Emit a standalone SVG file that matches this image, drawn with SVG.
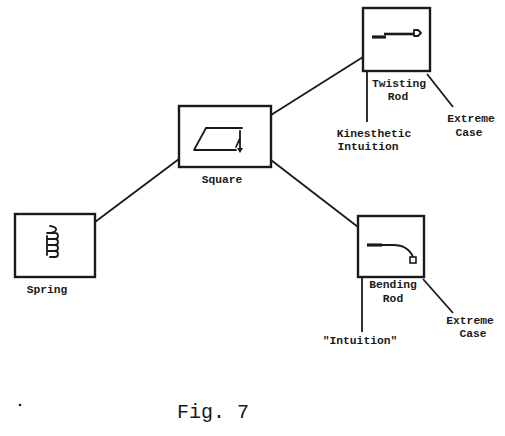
<svg xmlns="http://www.w3.org/2000/svg" width="505" height="436" viewBox="0 0 505 436">
<style>
.box{fill:#fff;stroke:#1a1a1a;stroke-width:2.4}
.ln{stroke:#1a1a1a;stroke-width:1.8;fill:none}
.ic{stroke:#1a1a1a;stroke-width:1.8;fill:none;stroke-linecap:round;stroke-linejoin:round}
.lbl{font-family:"Liberation Mono","DejaVu Sans Mono",monospace;font-weight:bold;font-size:11.3px;fill:#1a1a1a;text-anchor:middle}
.cap{font-family:"Liberation Mono","Courier New",monospace;font-size:20px;fill:#1a1a1a}
</style>
<rect width="505" height="436" fill="#fff"/>
<g id="connectors">
<line class="ln" x1="95" y1="222" x2="179" y2="159"/>
<line class="ln" x1="271" y1="115" x2="363" y2="57"/>
<line class="ln" x1="271" y1="160" x2="358" y2="227"/>
<line class="ln" x1="367" y1="71" x2="367" y2="122"/>
<line class="ln" x1="427" y1="74" x2="453" y2="107"/>
<line class="ln" x1="362" y1="277" x2="362" y2="332"/>
<line class="ln" x1="423" y1="279" x2="453" y2="313"/>
</g>
<g id="spring">
<rect class="box" x="15" y="214" width="80" height="63"/>
<path class="ic" d="M50,226 Q57,227 56,230 Q55,233 47,233 M47,233 H55 A3,3 0 0 1 55,239 H47 M47,239 H55 A3,3 0 0 1 55,245 H47 M47,245 H55 A3,3 0 0 1 55,251 H47 M47,251 H55 A3,3 0 0 1 55,257 H50 M47,236 V255"/>
<text class="lbl" x="47" y="293">Spring</text>
</g>
<g id="square">
<rect class="box" x="179" y="106" width="92" height="61"/>
<path class="ic" d="M206,128 H242 M206,128 L194,150 H236 M240,131 V150 M236,147 L240,138"/>
<path d="M237,148 L243,148 L240,153 Z" fill="#1a1a1a"/>
<text class="lbl" x="222" y="183">Square</text>
</g>
<g id="twisting-rod">
<rect class="box" x="363" y="8" width="67" height="63"/>
<path d="M372,37 H386" stroke="#1a1a1a" stroke-width="3.2" fill="none"/>
<path d="M384,34 H414" stroke="#1a1a1a" stroke-width="2.6" fill="none"/>
<path class="ic" d="M414,30 L418,30 L421,33 L418,36 L414,36 Z"/>
<text class="lbl" x="399" y="87">Twisting</text>
<text class="lbl" x="398" y="100">Rod</text>
<text class="lbl" x="374" y="137">Kinesthetic</text>
<text class="lbl" x="368" y="150">Intuition</text>
<text class="lbl" x="471" y="122">Extreme</text>
<text class="lbl" x="469" y="136">Case</text>
</g>
<g id="bending-rod">
<rect class="box" x="358" y="216" width="66" height="61"/>
<path d="M367,245 H382" stroke="#1a1a1a" stroke-width="3.2" fill="none"/>
<path class="ic" d="M381,245 H393 Q408,245 413,257"/>
<rect x="410" y="257" width="6" height="6" fill="#fff" stroke="#1a1a1a" stroke-width="1.6"/>
<text class="lbl" x="393" y="288">Bending</text>
<text class="lbl" x="393" y="302">Rod</text>
<text class="lbl" x="360" y="344">"Intuition"</text>
<text class="lbl" x="470" y="324">Extreme</text>
<text class="lbl" x="473" y="337">Case</text>
</g>
<circle cx="20" cy="405" r="1.3" fill="#1a1a1a"/>
<text class="cap" x="177" y="418">Fig. 7</text>
</svg>
